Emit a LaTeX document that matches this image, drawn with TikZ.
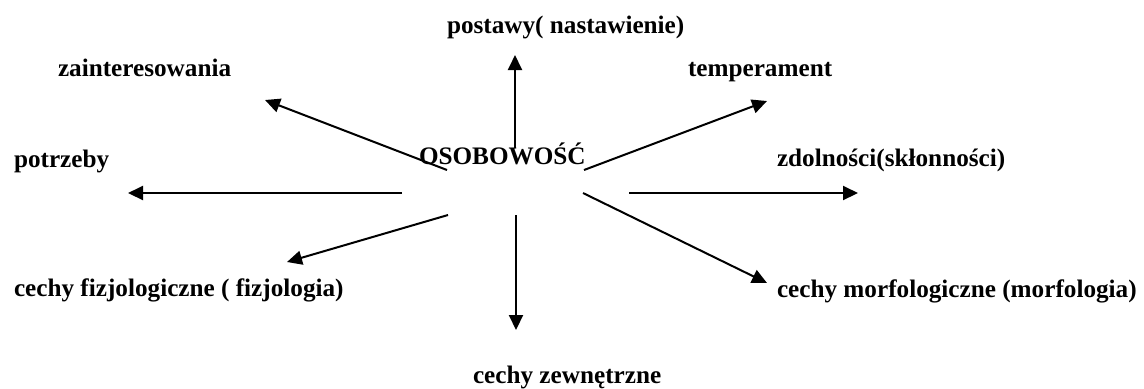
\documentclass[tikz,border=0pt]{standalone}
\usepackage{fontspec}
\setmainfont{Liberation Serif}
\usetikzlibrary{arrows.meta}

\begin{document}
\begin{tikzpicture}[x=0.5pt,y=-0.5pt,line width=1pt,
    lab/.style={anchor=base west,inner sep=0pt,font=\fontsize{12.6}{15}\selectfont\bfseries},
    arr/.style={-{Triangle[length=7.5pt,width=7pt]}}]
  \useasboundingbox (0,0) rectangle (1144,388);
  \node[lab] (osobowosc) at (418,164) {OSOBOWOŚĆ};
  \node[lab] (postawy) at (446,33) {postawy( nastawienie)};
  \node[lab] (zainteresowania) at (57,76) {zainteresowania};
  \node[lab] (temperament) at (687,76) {temperament};
  \node[lab] (potrzeby) at (13,167) {potrzeby};
  \node[lab] (zdolnosci) at (776,166) {zdolności(skłonności)};
  \node[lab] (fizjologia) at (13,296) {cechy fizjologiczne ( fizjologia)};
  \node[lab] (morfologia) at (776,297) {cechy morfologiczne (morfologia)};
  \node[lab] (zewnetrzne) at (472,383) {cechy zewnętrzne};
  \coordinate (postawy-a) at (515,148);         \coordinate (postawy-b) at (515,55);
  \coordinate (zainteresowania-a) at (447,170); \coordinate (zainteresowania-b) at (265,100);
  \coordinate (temperament-a) at (584,170);     \coordinate (temperament-b) at (767,101);
  \coordinate (potrzeby-a) at (402,193);        \coordinate (potrzeby-b) at (128,193);
  \coordinate (zdolnosci-a) at (629,193);       \coordinate (zdolnosci-b) at (858,193);
  \coordinate (fizjologia-a) at (448,215);      \coordinate (fizjologia-b) at (287,262);
  \coordinate (zewnetrzne-a) at (516,215);      \coordinate (zewnetrzne-b) at (516,330);
  \coordinate (morfologia-a) at (583,193);      \coordinate (morfologia-b) at (767,283);
  \foreach \n in {postawy,zainteresowania,temperament,potrzeby,zdolnosci,fizjologia,zewnetrzne,morfologia}
  {
    \draw[arr] (\n-a) -- (\n-b);
  }
\end{tikzpicture}
\end{document}
